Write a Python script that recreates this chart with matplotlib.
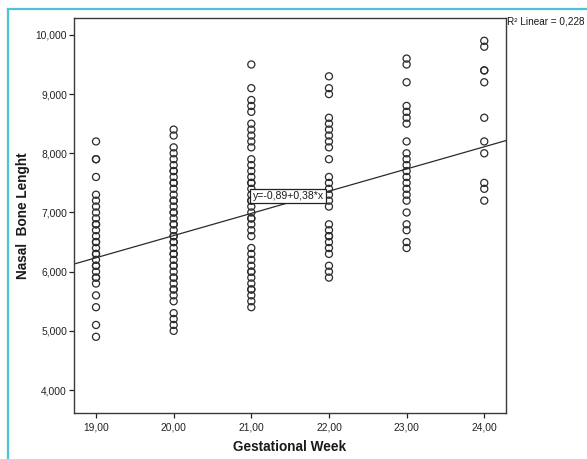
import matplotlib
matplotlib.use("Agg")
import matplotlib.pyplot as plt
from matplotlib.lines import Line2D
import numpy as np

plt.rcParams['font.family'] = ['Liberation Sans', 'DejaVu Sans']

# ---- data (nasal bone length, mm) by gestational week ----
weeks = [19, 20, 21, 22, 23, 24]
w19 = [8.2, 7.9, 7.9, 7.6, 7.3, 7.2, 7.1, 7.0, 6.9, 6.8, 6.8, 6.7, 6.6, 6.5, 6.5,
       6.4, 6.3, 6.3, 6.2, 6.1, 6.1, 6.0, 5.9, 5.9, 5.8, 5.6, 5.4, 5.1, 4.9]
w20 = [8.4, 8.3, 8.1, 8.0, 7.9, 7.8, 7.7, 7.7, 7.6, 7.5, 7.5, 7.4, 7.3, 7.2, 7.2,
       7.1, 7.0, 7.0, 6.9, 6.8, 6.8, 6.7, 6.6, 6.6, 6.5, 6.5, 6.4, 6.3, 6.3, 6.2,
       6.1, 6.1, 6.0, 5.9, 5.9, 5.8, 5.7, 5.7, 5.6, 5.5, 5.3, 5.2, 5.1, 5.0]
w21 = [9.5, 9.1, 8.9, 8.8, 8.7, 8.5, 8.4, 8.3, 8.2, 8.1, 7.9, 7.8, 7.7, 7.6, 7.5,
       7.5, 7.4, 7.3, 7.2, 7.2, 7.1, 7.0, 6.9, 6.9, 6.8, 6.7, 6.6, 6.4, 6.3, 6.2,
       6.1, 6.0, 6.0, 5.9, 5.8, 5.7, 5.7, 5.6, 5.5, 5.4]
w22 = [9.3, 9.1, 9.0, 8.6, 8.5, 8.4, 8.3, 8.2, 8.1, 7.9, 7.6, 7.5, 7.4, 7.3, 7.2,
       7.1, 6.8, 6.7, 6.6, 6.6, 6.5, 6.4, 6.3, 6.1, 6.0, 5.9]
w23 = [9.6, 9.5, 9.2, 8.8, 8.7, 8.6, 8.5, 8.2, 8.0, 7.9, 7.8, 7.7, 7.6, 7.5, 7.4,
       7.3, 7.2, 7.0, 6.8, 6.7, 6.5, 6.4]
w24 = [9.9, 9.8, 9.4, 9.4, 9.2, 8.6, 8.2, 8.0, 7.5, 7.4, 7.2]
groups = [w19, w20, w21, w22, w23, w24]

fit_intercept = -0.89
fit_slope = 0.375
r2_text = "R² Linear = 0,228"
eq_text = "y=-0,89+0,38*x"
xticks = [19, 20, 21, 22, 23, 24]
yticks = [4, 5, 6, 7, 8, 9, 10]

fig = plt.figure(figsize=(5.87, 4.59), dpi=100)
ax = fig.add_axes([0.126, 0.100, 0.736, 0.861])

dark = '#2b2b2b'
for wk, vals in zip(weeks, groups):
    ax.scatter([wk] * len(vals), vals, s=26, facecolors='none',
               edgecolors=dark, linewidths=0.9, zorder=3)

xlim = (18.716, 24.28)
xs = np.array(xlim)
ax.plot(xs, fit_intercept + fit_slope * xs, color=dark, lw=0.9, zorder=2)

ax.set_xlim(*xlim)
ax.set_ylim(3.611, 10.287)
ax.set_xticks(xticks)
ax.set_xticklabels([f"{v:.2f}".replace('.', ',') for v in xticks])
ax.set_yticks(yticks)
ax.set_yticklabels([f"{v:.3f}".replace('.', ',') for v in yticks])
ax.tick_params(axis='both', labelsize=7.4, colors='#222222', length=3.5,
               width=0.9, direction='out', top=False, right=False)
ax.tick_params(axis='x', pad=3)
ax.tick_params(axis='y', pad=1.5)
for sp in ax.spines.values():
    sp.set_color('#3a3a3a')
    sp.set_linewidth(1.0)

ax.set_xlabel("Gestational Week", fontsize=9.8, fontweight='bold',
              color='#1a1a1a', labelpad=6)
ax.set_ylabel("Nasal  Bone Lenght", fontsize=9.8, fontweight='bold',
              color='#1a1a1a', labelpad=4)

ax.text(21.474, 7.279, eq_text, fontsize=7.6, color='#1a1a1a',
        ha='center', va='center', zorder=5,
        bbox=dict(boxstyle='square,pad=0.22', facecolor='white',
                  edgecolor='#222222', linewidth=0.9))

fig.text(507 / 587, 1 - 22 / 459, r2_text, fontsize=7.2, color='#1a1a1a',
         ha='left', va='center')

cyan = '#4cc3d8'
fig.add_artist(Line2D([8 / 587, 1.0], [1 - 9 / 459, 1 - 9 / 459],
                      transform=fig.transFigure, color=cyan, lw=1.6))
fig.add_artist(Line2D([8 / 587, 8 / 587], [0.0, 1 - 9 / 459],
                      transform=fig.transFigure, color=cyan, lw=1.6))

fig.savefig("out.png", dpi=100, facecolor='white')
